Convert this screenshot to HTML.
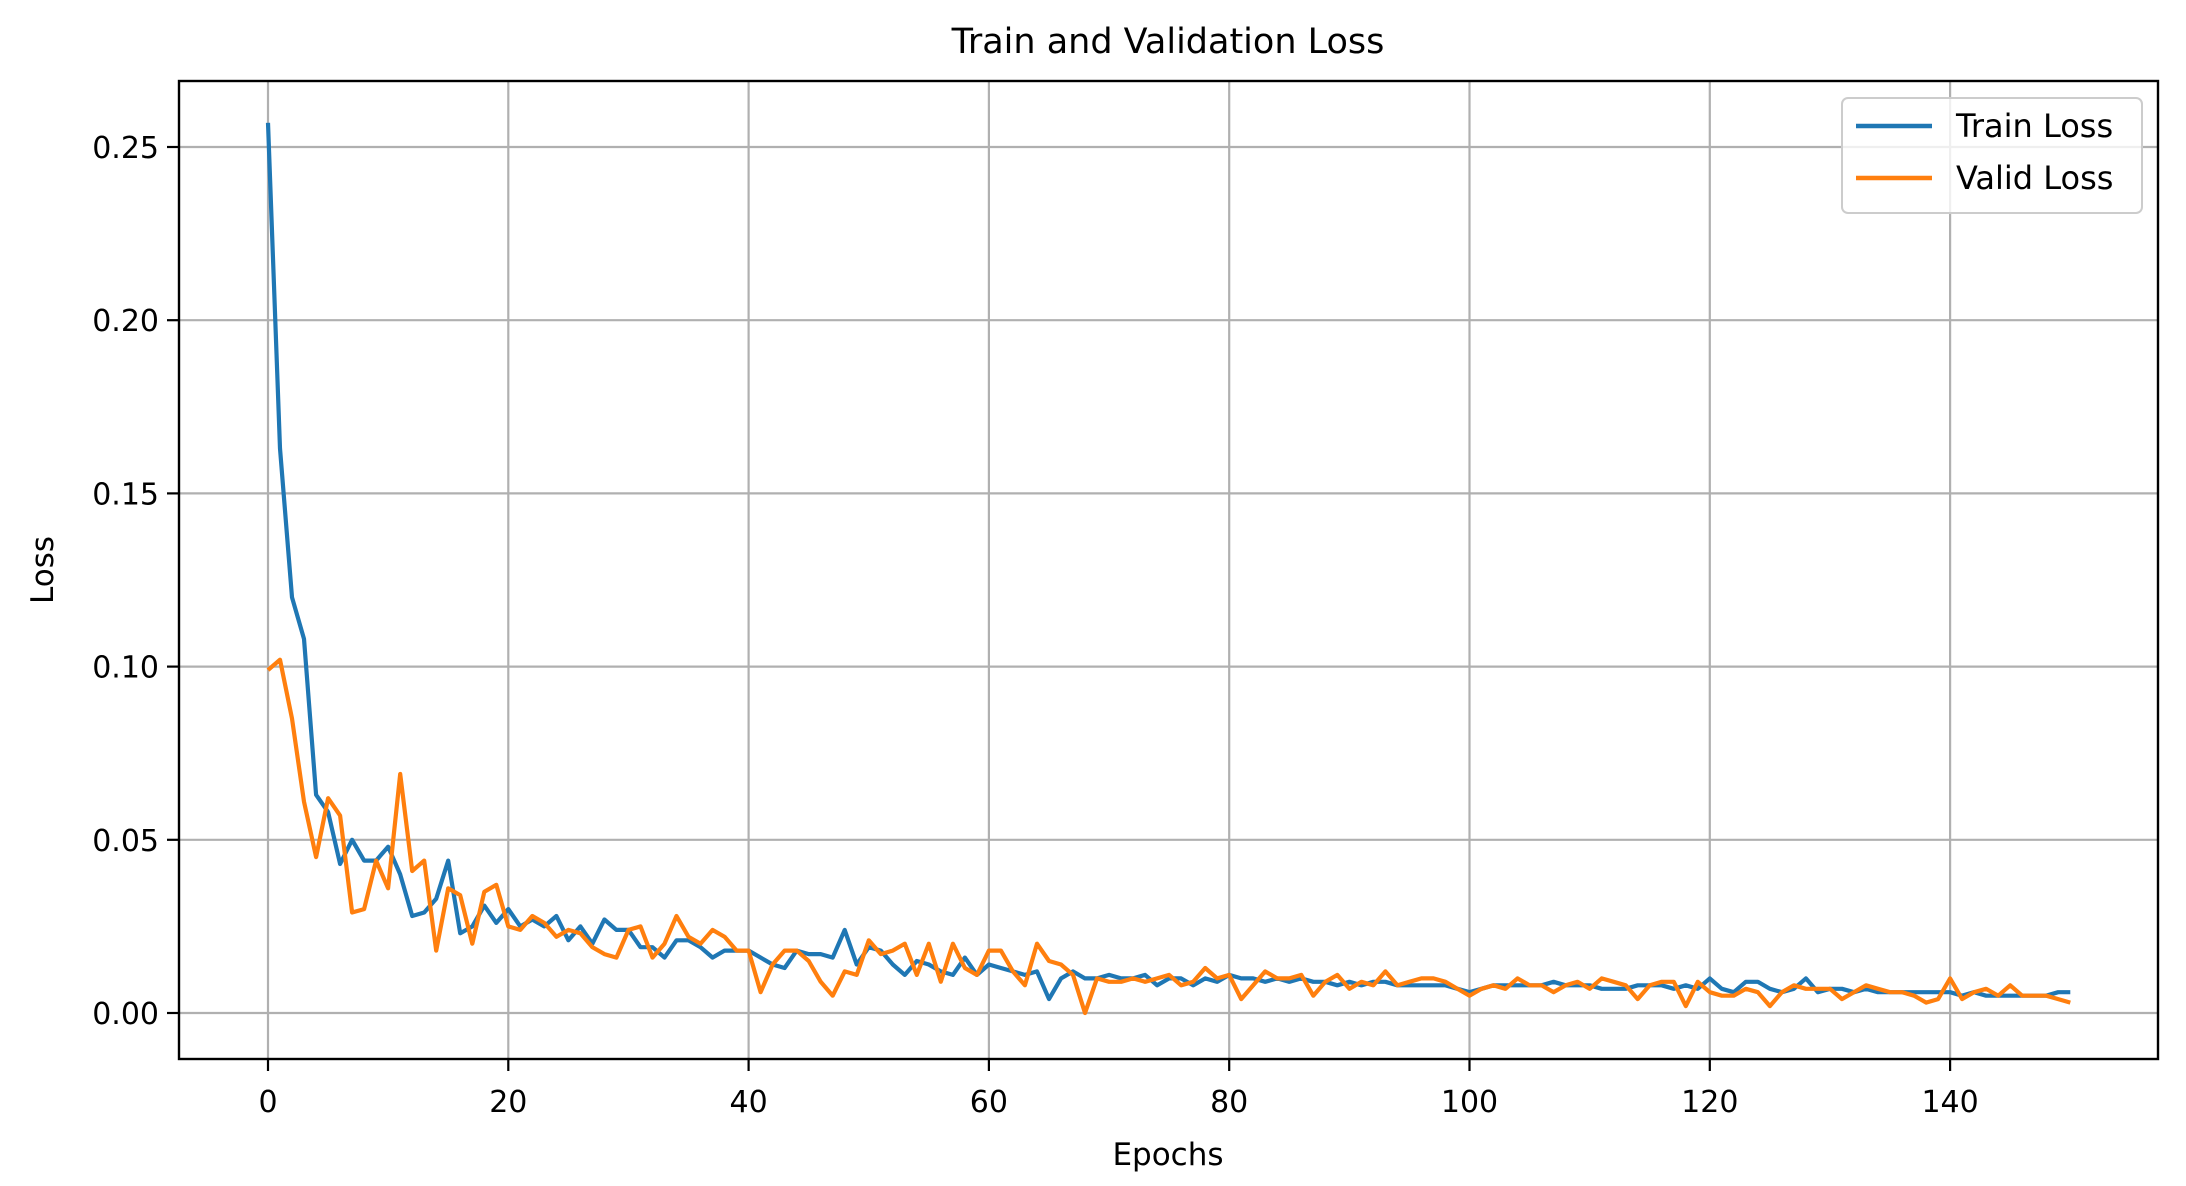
<!DOCTYPE html>
<html><head><meta charset="utf-8"><style>
body{margin:0;background:#fff}
svg{display:block;font-family:"DejaVu Sans","Liberation Sans",sans-serif}
</style></head><body>
<svg id="chart" width="2186" height="1186" viewBox="0 0 2186 1186" xmlns="http://www.w3.org/2000/svg">
<rect width="2186" height="1186" fill="#fff"/>
<g id="grid"></g>
<g id="series"></g>
<rect x="179" y="81" width="1979" height="978" fill="none" stroke="#000" stroke-width="2.4"/>
<g id="ticks"></g>
<text x="1168" y="53" font-size="35" text-anchor="middle">Train and Validation Loss</text>
<text x="1168" y="1165" font-size="31" text-anchor="middle">Epochs</text>
<text x="0" y="0" font-size="31" text-anchor="middle" transform="translate(53,570) rotate(-90)">Loss</text>
<g>
<rect x="1842" y="98" width="300" height="115" rx="6" fill="#fff" fill-opacity="0.8" stroke="#ccc" stroke-width="2"/>
<line x1="1856" y1="126" x2="1932" y2="126" stroke="#1f77b4" stroke-width="4.5"/>
<text x="1956" y="137" font-size="32">Train Loss</text>
<line x1="1856" y1="178" x2="1932" y2="178" stroke="#ff7f0e" stroke-width="4.5"/>
<text x="1956" y="189" font-size="32">Valid Loss</text>
</g>
</svg>
<script>
const trainLoss=[0.257,0.163,0.120,0.108,0.063,0.058,0.043,0.050,0.044,0.044,0.048,0.040,0.028,0.029,0.033,0.044,0.023,0.025,0.031,0.026,0.030,0.025,0.027,0.025,0.028,0.021,0.025,0.020,0.027,0.024,0.024,0.019,0.019,0.016,0.021,0.021,0.019,0.016,0.018,0.018,0.018,0.016,0.014,0.013,0.018,0.017,0.017,0.016,0.024,0.014,0.019,0.018,0.014,0.011,0.015,0.014,0.012,0.011,0.016,0.011,0.014,0.013,0.012,0.011,0.012,0.004,0.010,0.012,0.010,0.010,0.011,0.010,0.010,0.011,0.008,0.010,0.010,0.008,0.010,0.009,0.011,0.010,0.010,0.009,0.010,0.009,0.010,0.009,0.009,0.008,0.009,0.008,0.009,0.009,0.008,0.008,0.008,0.008,0.008,0.007,0.006,0.007,0.008,0.008,0.008,0.008,0.008,0.009,0.008,0.008,0.008,0.007,0.007,0.007,0.008,0.008,0.008,0.007,0.008,0.007,0.010,0.007,0.006,0.009,0.009,0.007,0.006,0.007,0.010,0.006,0.007,0.007,0.006,0.007,0.006,0.006,0.006,0.006,0.006,0.006,0.006,0.005,0.006,0.005,0.005,0.005,0.005,0.005,0.005,0.006,0.006];
const validLoss=[0.099,0.102,0.085,0.061,0.045,0.062,0.057,0.029,0.030,0.044,0.036,0.069,0.041,0.044,0.018,0.036,0.034,0.020,0.035,0.037,0.025,0.024,0.028,0.026,0.022,0.024,0.023,0.019,0.017,0.016,0.024,0.025,0.016,0.020,0.028,0.022,0.020,0.024,0.022,0.018,0.018,0.006,0.014,0.018,0.018,0.015,0.009,0.005,0.012,0.011,0.021,0.017,0.018,0.020,0.011,0.020,0.009,0.020,0.013,0.011,0.018,0.018,0.012,0.008,0.020,0.015,0.014,0.011,0.000,0.010,0.009,0.009,0.010,0.009,0.010,0.011,0.008,0.009,0.013,0.010,0.011,0.004,0.008,0.012,0.010,0.010,0.011,0.005,0.009,0.011,0.007,0.009,0.008,0.012,0.008,0.009,0.010,0.010,0.009,0.007,0.005,0.007,0.008,0.007,0.010,0.008,0.008,0.006,0.008,0.009,0.007,0.010,0.009,0.008,0.004,0.008,0.009,0.009,0.002,0.009,0.006,0.005,0.005,0.007,0.006,0.002,0.006,0.008,0.007,0.007,0.007,0.004,0.006,0.008,0.007,0.006,0.006,0.005,0.003,0.004,0.010,0.004,0.006,0.007,0.005,0.008,0.005,0.005,0.005,0.004,0.003];
const xTicks=[0,20,40,60,80,100,120,140];
const yTicks=[0.00,0.05,0.10,0.15,0.20,0.25];
const NS='http://www.w3.org/2000/svg';
const L=179,R=2158,T=81,B=1059;
function xs(v){return 268+v*12.015;}
function ys(v){return 1013-v*3464;}
const grid=document.getElementById('grid'),ticks=document.getElementById('ticks'),series=document.getElementById('series');
function mk(tag,attrs,parent){const e=document.createElementNS(NS,tag);for(const k in attrs)e.setAttribute(k,attrs[k]);parent.appendChild(e);return e;}
xTicks.forEach(t=>{const x=xs(t);
const g=mk('line',{x1:x,y1:T,x2:x,y2:B,stroke:'#b0b0b0','stroke-width':2.2},grid);


const tk=mk('line',{x1:x,y1:B,x2:x,y2:B+12,stroke:'#000','stroke-width':2.2},ticks);


const tx=mk('text',{x:x,y:1112,'font-size':30,'text-anchor':'middle'},ticks);tx.textContent=String(t);

});
yTicks.forEach(t=>{const y=ys(t);
const g=mk('line',{x1:L,y1:y,x2:R,y2:y,stroke:'#b0b0b0','stroke-width':2.2},grid);


const tk=mk('line',{x1:L-12,y1:y,x2:L,y2:y,stroke:'#000','stroke-width':2.2},ticks);


const tx=mk('text',{x:L-20,y:y+11,'font-size':30,'text-anchor':'end'},ticks);tx.textContent=t.toFixed(2);

});
function line(arr,color,name){const d=arr.map((v,i)=>(i?'L':'M')+xs(i).toFixed(1)+' '+ys(v).toFixed(1)).join(' ');
const p=mk('path',{d:d,fill:'none',stroke:color,'stroke-width':4.2,'stroke-linejoin':'round'},series);

}
line(trainLoss,'#1f77b4','train-loss-line');
line(validLoss,'#ff7f0e','valid-loss-line');
</script>
</body></html>
